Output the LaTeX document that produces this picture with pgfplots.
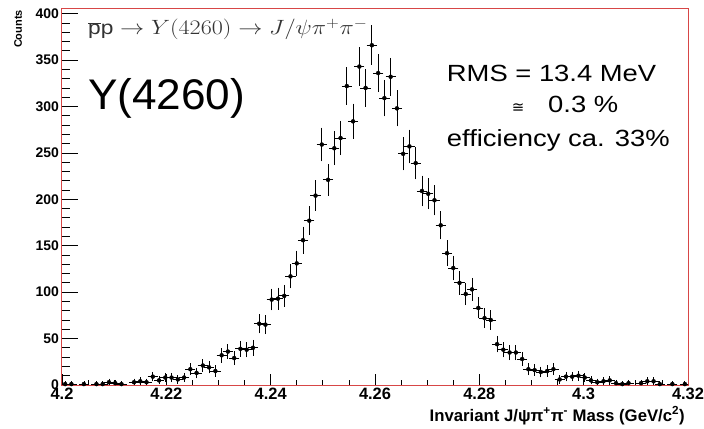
\documentclass[border=0pt]{standalone}
\usepackage{fontspec}
\setmainfont{Liberation Sans}
\newfontfamily\dejavu{DejaVu Sans}
\usepackage{pgfplots}
\usepackage{pgfplotstable}
\pgfplotsset{compat=1.18}
\definecolor{framered}{RGB}{215,70,70}

% Reconstructed J/psi pi+ pi- invariant mass spectrum: 100 bins of 1.2 MeV
% m = bin centre (GeV/c^2), n = counts, e = statistical error sqrt(n)
\pgfplotstableread{
m       n    e
4.2006  1    1.00
4.2018  1    1.00
4.2042  1    1.00
4.2066  1    1.00
4.2078  1    1.00
4.2090  3    1.73
4.2102  2    1.41
4.2114  1    1.00
4.2138  3    1.73
4.2150  4    2.00
4.2162  3    1.73
4.2174  9    3.00
4.2186  5    2.24
4.2198  8    2.83
4.2210  8    2.83
4.2222  6    2.45
4.2234  8    2.83
4.2246  17   4.12
4.2258  13   3.61
4.2270  21   4.58
4.2282  19   4.36
4.2294  15   3.87
4.2306  32   5.66
4.2318  36   6.00
4.2330  29   5.39
4.2342  39   6.24
4.2354  38   6.16
4.2366  40   6.32
4.2378  66   8.12
4.2390  65   8.06
4.2402  92   9.59
4.2414  93   9.64
4.2426  96   9.80
4.2438  117  10.82
4.2450  131  11.45
4.2462  156  12.49
4.2474  177  13.30
4.2486  204  14.28
4.2498  259  16.09
4.2510  221  14.87
4.2522  255  15.97
4.2534  266  16.31
4.2546  322  17.94
4.2558  284  16.85
4.2570  343  18.52
4.2582  320  17.89
4.2594  366  19.13
4.2606  336  18.33
4.2618  309  17.58
4.2630  332  18.22
4.2642  298  17.26
4.2654  249  15.78
4.2666  257  16.03
4.2678  239  15.46
4.2690  209  14.46
4.2702  206  14.35
4.2714  199  14.11
4.2726  172  13.11
4.2738  142  11.92
4.2750  126  11.22
4.2762  110  10.49
4.2774  98   9.90
4.2786  103  10.15
4.2798  83   9.11
4.2810  72   8.49
4.2822  70   8.37
4.2834  44   6.63
4.2846  38   6.16
4.2858  35   5.92
4.2870  35   5.92
4.2882  28   5.29
4.2894  17   4.12
4.2906  16   4.00
4.2918  14   3.74
4.2930  15   3.87
4.2942  17   4.12
4.2954  6    2.45
4.2966  9    3.00
4.2978  9    3.00
4.2990  10   3.16
4.3002  8    2.83
4.3014  5    2.24
4.3026  3    1.73
4.3038  4    2.00
4.3050  5    2.24
4.3062  2    1.41
4.3074  1    1.00
4.3086  2    1.41
4.3110  2    1.41
4.3122  4    2.00
4.3134  4    2.00
4.3146  1    1.00
4.3170  1    1.00
4.3194  1    1.00
}\massdata

\begin{document}
\begin{tikzpicture}
\path[use as bounding box] (-62bp,-44bp) rectangle (642bp,385bp);
\begin{axis}[
  at={(0,0)}, anchor=south west,
  width=626bp, height=376bp, scale only axis,
  xmin=4.2, xmax=4.32, ymin=0, ymax=405,
  xtick={4.2,4.22,4.24,4.26,4.28,4.3,4.32},
  xticklabels={4.2,4.22,4.24,4.26,4.28,4.3,4.32},
  minor x tick num=3,
  ytick={0,50,100,150,200,250,300,350,400},
  minor y tick num=4,
  tick align=inside, tick pos=left,
  major tick length=16bp, minor tick length=8bp,
  xtick style={/pgfplots/major tick length=11bp},
  minor x tick style={/pgfplots/minor tick length=5bp},
  axis line style={framered, line width=1bp},
  tick style={black, line width=0.8bp},
  /pgf/number format/assume math mode=true,
  xticklabel style={font=\bfseries\fontsize{16.5}{17}\selectfont, inner sep=2.5bp},
  yticklabel style={font=\bfseries\fontsize{14}{15}\selectfont, inner sep=3bp},
]
\addplot[black, only marks, mark=none,
  error bars/.cd,
    x dir=both, x fixed=0.0006,
    y dir=both, y explicit,
    error bar style={black, line width=0.8bp},
    error mark options={black, mark size=2bp, line width=0.8bp}]
  table[x=m, y=n, y error=e] {\massdata};
\end{axis}

% annotations
\node[anchor=base west, inner sep=0, text=black!80,
  font=\fontsize{19.5}{21}\selectfont, xscale=1.17] at (26bp,350bp)
  {$\overline{\mathrm{p}}\mathrm{p}\rightarrow Y(4260)\rightarrow J/\psi\pi^{+}\pi^{-}$};
\node[anchor=base west, inner sep=0, font=\fontsize{43}{45}\selectfont, xscale=1.03]
  at (26bp,275bp) {Y(4260)};
\node[anchor=base west, inner sep=0, font=\fontsize{23.5}{25}\selectfont, xscale=1.17]
  at (384.7bp,303.3bp) {RMS = 13.4 MeV};
\node[anchor=base west, inner sep=0, font=\dejavu\fontsize{15}{17}\selectfont]
  at (449.7bp,272bp) {≅};
\node[anchor=base west, inner sep=0, font=\fontsize{23.5}{25}\selectfont, xscale=1.17]
  at (486bp,272bp) {0.3 \%};
\node[anchor=base west, inner sep=0, font=\fontsize{23.5}{25}\selectfont, xscale=1.17]
  at (384.7bp,238.3bp) {efficiency ca. 33\%};

% axis titles
\node[anchor=base east, inner sep=0, font=\bfseries\fontsize{16.8}{18}\selectfont]
  at (623bp,-36bp) {Invariant J/ψπ\textsuperscript{+}π\textsuperscript{-} Mass (GeV/c\textsuperscript{2})};
\node[anchor=east, rotate=90, inner sep=0, font=\bfseries\fontsize{11}{12}\selectfont]
  at (-44bp,375bp) {Counts};
\end{tikzpicture}
\end{document}
